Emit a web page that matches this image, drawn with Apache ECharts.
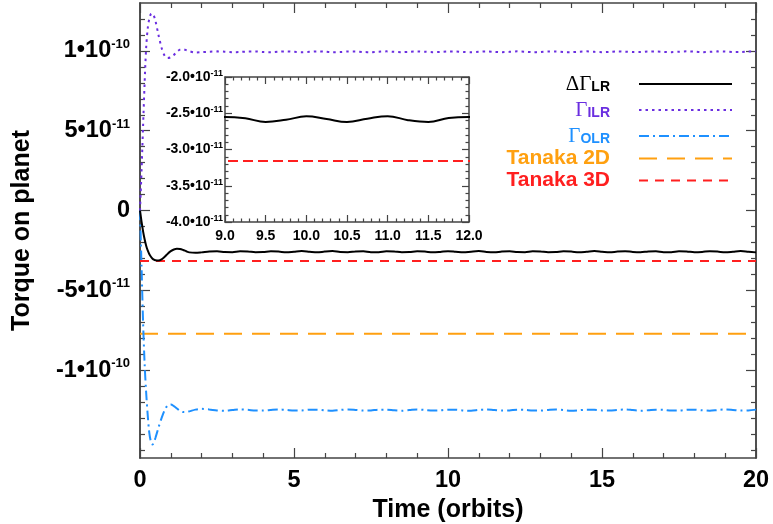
<!DOCTYPE html>
<html><head><meta charset="utf-8">
<script src="https://cdn.jsdelivr.net/npm/echarts@6/dist/echarts.min.js"></script>
<style>html,body{margin:0;padding:0;background:#fff}#c{width:773px;height:524px}</style>
</head><body><div id="c"></div>
<script>
// ---- data (torque values in units of 1e-11) ----
const time = [0,0.05,0.1,0.15,0.2,0.25,0.3,0.35,0.4,0.45,0.5,0.6,0.7,0.8,0.9,1.0,1.1,1.2,1.3,1.4,1.5,1.6,1.8,
  2,2.25,2.5,2.75, 3,3.25,3.5,3.75, 4,4.25,4.5,4.75, 5,5.25,5.5,5.75, 6,6.25,6.5,6.75,
  7,7.25,7.5,7.75, 8,8.25,8.5,8.75, 9,9.25,9.5,9.75, 10,10.25,10.5,10.75, 11,11.25,11.5,11.75,
  12,12.25,12.5,12.75, 13,13.25,13.5,13.75, 14,14.25,14.5,14.75, 15,15.25,15.5,15.75,
  16,16.25,16.5,16.75, 17,17.25,17.5,17.75, 18,18.25,18.5,18.75, 19,19.25,19.5,19.75, 20];

const deltaGammaLR = [0,-0.7,-1.3,-1.8,-2.2,-2.5,-2.72,-2.88,-3.0,-3.07,-3.11,-3.13,-3.06,-2.9,-2.7,-2.54,-2.44,-2.40,-2.41,-2.47,-2.55,-2.62,-2.65,
  -2.62,-2.57,-2.55,-2.60, -2.61,-2.55,-2.56,-2.61, -2.60,-2.55,-2.57,-2.62, -2.58,-2.54,-2.58,-2.62,
  -2.57,-2.54,-2.60,-2.61, -2.56,-2.55,-2.61,-2.61, -2.55,-2.56,-2.61,-2.60, -2.55,-2.57,-2.62,-2.59,
  -2.543,-2.58,-2.62,-2.575, -2.54,-2.595,-2.62,-2.565, -2.55,-2.60,-2.61,-2.55, -2.56,-2.61,-2.60,-2.545,
  -2.57,-2.62,-2.585,-2.54, -2.58,-2.62,-2.57,-2.545, -2.595,-2.615,-2.56,-2.55, -2.605,-2.605,-2.55,-2.56,
  -2.615,-2.595,-2.545,-2.57, -2.62,-2.585,-2.54,-2.58, -2.62];

const gammaILR = [0,2.5,5.3,8.0,10.2,11.4,12.0,12.3,12.35,12.2,11.9,11.0,10.2,9.7,9.55,9.6,9.75,9.95,10.08,10.1,10.05,9.98,9.9,
  9.92,9.95,9.97,9.95, 9.92,9.93,9.96,9.96, 9.93,9.92,9.95,9.97, 9.94,9.92,9.94,9.97,
  9.95,9.92,9.93,9.96, 9.96,9.93,9.92,9.95, 9.97,9.94,9.92,9.94, 9.97,9.95,9.92,9.93,
  9.96,9.96,9.93,9.92, 9.95,9.97,9.94,9.92, 9.94,9.97,9.95,9.92, 9.93,9.96,9.96,9.93,
  9.92,9.95,9.97,9.94, 9.92,9.94,9.97,9.95, 9.93,9.93,9.96,9.96, 9.94,9.92,9.95,9.97,
  9.95,9.92,9.94,9.97, 9.96,9.93,9.93,9.96, 9.96];

const gammaOLR = [0,-3.5,-7.0,-9.6,-11.4,-12.8,-13.9,-14.45,-14.65,-14.55,-14.25,-13.6,-13.0,-12.5,-12.2,-12.15,-12.25,-12.4,-12.55,-12.62,-12.62,-12.58,-12.47,
  -12.42,-12.46,-12.52,-12.54, -12.50,-12.46,-12.48,-12.53, -12.53,-12.49,-12.46,-12.49, -12.53,-12.52,-12.47,-12.47,
  -12.51,-12.54,-12.49,-12.46, -12.49,-12.53,-12.52,-12.47, -12.47,-12.51,-12.54,-12.50, -12.46,-12.49,-12.53,-12.52,
  -12.47,-12.47,-12.52,-12.54, -12.49,-12.46,-12.50,-12.53, -12.52,-12.47,-12.48,-12.53, -12.53,-12.49,-12.46,-12.50,
  -12.54,-12.51,-12.47,-12.48, -12.52,-12.53,-12.49,-12.46, -12.50,-12.54,-12.51,-12.47, -12.48,-12.53,-12.53,-12.48,
  -12.47,-12.51,-12.54,-12.50, -12.46,-12.49,-12.53,-12.52, -12.47];

const tanakaTime = [0, 20];
const tanaka2D = [-7.72, -7.72];
const tanaka3D = [-3.16, -3.16];

const seriesNames = ['dLR', 'ILR', 'OLR', 'Tanaka 2D', 'Tanaka 3D'];

// ---- ticks & labels ----
const xMajorTicks = [0, 5, 10, 15, 20];
const yMajorTicks = [-10, -5, 0, 5, 10];
const yMantissa = ['-1\u202210', '-5\u202210', '0', '5\u202210', '1\u202210'];
const yExponent = ['-10', '-11', '', '-11', '-10'];
const yMinorTicks = [-15,-14,-13,-12,-11,-9,-8,-7,-6,-4,-3,-2,-1,1,2,3,4,6,7,8,9,11,12];
const insetXTicks = [9.0, 9.5, 10.0, 10.5, 11.0, 11.5, 12.0];
const insetYTicks = [-4.0, -3.5, -3.0, -2.5, -2.0];
const insetExponent = '-11';

// ---- styling ----
const FONT = "'Liberation Sans', Arial, Helvetica, sans-serif";
const SERIF = "'Liberation Serif', 'Times New Roman', serif";
const AX = '#444';
const C = { black: '#000000', purple: '#6a2ee0', blue: '#1e90ff', orange: '#ffa010', red: '#ff1f1f' };

function pairs(xs, ys) { return xs.map((x, i) => [x, ys[i]]); }
const axisLine = { show: true, onZero: false, lineStyle: { color: AX, width: 1.5 } };

function xAx(grid, pos, min, max, interval, showLabel, labelOpt, extra) {
  return Object.assign({
    type: 'value', gridIndex: grid, position: pos, min, max, interval,
    axisLine, splitLine: { show: false },
    axisTick: { show: true, inside: true, length: grid === 0 ? 10 : 7, lineStyle: { color: AX, width: 1.2 } },
    minorTick: { show: true, splitNumber: 5, length: grid === 0 ? 5 : 3.5, lineStyle: { color: AX, width: 1.2 } },
    axisLabel: Object.assign({ show: showLabel, showMinLabel: true, showMaxLabel: true }, labelOpt)
  }, extra || {});
}

function findIdx(arr, v) { return arr.findIndex(a => Math.abs(a - v) < 1e-6); }

const mainYLabel = {
  show: true, customValues: yMajorTicks, margin: 10,
  formatter: function (v) {
    const i = findIdx(yMajorTicks, v);
    if (i < 0) return '';
    return yExponent[i] ? '{b|' + yMantissa[i] + '}{s|' + yExponent[i] + '}' : '{b|' + yMantissa[i] + '}';
  },
  rich: {
    b: { fontFamily: FONT, fontWeight: 'bold', fontSize: 23.5, color: '#000', lineHeight: 26 },
    s: { fontFamily: FONT, fontWeight: 'bold', fontSize: 13, color: '#000', lineHeight: 13, verticalAlign: 'top' }
  }
};

function yAx(grid, pos, ticks, len, label, extra) {
  return Object.assign({
    type: 'value', gridIndex: grid, position: pos, min: -15.5, max: 13,
    axisLine, splitLine: { show: false },
    axisTick: { show: true, inside: true, length: len, customValues: ticks, lineStyle: { color: AX, width: 1.2 } },
    axisLabel: label || { show: false }
  }, extra || {});
}

const option = {
  animation: false,
  backgroundColor: '#fff',
  grid: [
    { left: 140, right: 17, top: 3, bottom: 66, outerBoundsMode: 'none' },
    { left: 225, right: 304, top: 77, bottom: 302, outerBoundsMode: 'none', show: true, backgroundColor: '#fff', borderWidth: 0 }
  ],
  xAxis: [
    xAx(0, 'bottom', 0, 20, 5, true,
      { margin: 11, fontFamily: FONT, fontWeight: 'bold', fontSize: 23.5, color: '#000' },
      { name: 'Time (orbits)', nameLocation: 'middle', nameGap: 36,
        nameTextStyle: { fontFamily: FONT, fontWeight: 'bold', fontSize: 25, color: '#000' } }),
    xAx(0, 'top', 0, 20, 5, false, {}),
    xAx(1, 'bottom', 9, 12, 0.5, true,
      { margin: 7, fontFamily: FONT, fontWeight: 'bold', fontSize: 14, color: '#000',
        formatter: v => (findIdx(insetXTicks, v) >= 0 ? v.toFixed(1) : '') }),
    xAx(1, 'top', 9, 12, 0.5, false, {})
  ],
  yAxis: [
    yAx(0, 'left', yMajorTicks, 10, mainYLabel,
      { name: 'Torque on planet', nameLocation: 'middle', nameRotate: 90, nameGap: 105,
        nameTextStyle: { fontFamily: FONT, fontWeight: 'bold', fontSize: 25, color: '#000' } }),
    yAx(0, 'left', yMinorTicks, 5),
    yAx(0, 'right', yMajorTicks, 10),
    yAx(0, 'right', yMinorTicks, 5),
    {
      type: 'value', gridIndex: 1, position: 'left', min: -4, max: -2, interval: 0.5,
      axisLine, splitLine: { show: false },
      axisTick: { show: true, inside: true, length: 7, lineStyle: { color: AX, width: 1.2 } },
      minorTick: { show: true, splitNumber: 5, length: 3.5, lineStyle: { color: AX, width: 1.2 } },
      axisLabel: {
        show: true, margin: 2, showMinLabel: true, showMaxLabel: true,
        formatter: v => (findIdx(insetYTicks, v) >= 0 ? '{b|' + v.toFixed(1) + '\u202210}{s|' + insetExponent + '}' : ''),
        rich: {
          b: { fontFamily: FONT, fontWeight: 'bold', fontSize: 14, color: '#000', lineHeight: 16 },
          s: { fontFamily: FONT, fontWeight: 'bold', fontSize: 9, color: '#000', lineHeight: 9, verticalAlign: 'top' }
        }
      }
    },
    {
      type: 'value', gridIndex: 1, position: 'right', min: -4, max: -2, interval: 0.5,
      axisLine, splitLine: { show: false },
      axisTick: { show: true, inside: true, length: 7, lineStyle: { color: AX, width: 1.2 } },
      minorTick: { show: true, splitNumber: 5, length: 3.5, lineStyle: { color: AX, width: 1.2 } },
      axisLabel: { show: false }
    }
  ],
  legend: {
    orient: 'vertical', right: 40, top: 70, align: 'right', padding: 0,
    itemWidth: 93, itemHeight: 14, itemGap: 1, selectedMode: false,
    itemStyle: { opacity: 0 },
    data: seriesNames,
    formatter: function (n) {
      switch (n) {
        case 'dLR': return '{gK|\u0394\u0393}{sK|LR}';
        case 'ILR': return '{gP|\u0393}{sP|ILR}';
        case 'OLR': return '{gB|\u0393}{sB|OLR}';
        case 'Tanaka 2D': return '{tO|Tanaka 2D}';
        default: return '{tR|Tanaka 3D}';
      }
    },
    textStyle: {
      padding: [0, 24, 0, 0],
      rich: {
        gK: { fontFamily: SERIF, fontSize: 21, color: C.black, lineHeight: 20, verticalAlign: 'top' },
        gP: { fontFamily: SERIF, fontSize: 21, color: C.purple, lineHeight: 20, verticalAlign: 'top' },
        gB: { fontFamily: SERIF, fontSize: 21, color: C.blue, lineHeight: 20, verticalAlign: 'top' },
        sK: { fontFamily: FONT, fontWeight: 'bold', fontSize: 14, color: C.black, lineHeight: 14, padding: [10, 0, 0, 0], verticalAlign: 'bottom' },
        sP: { fontFamily: FONT, fontWeight: 'bold', fontSize: 14, color: C.purple, lineHeight: 14, padding: [10, 0, 0, 0], verticalAlign: 'bottom' },
        sB: { fontFamily: FONT, fontWeight: 'bold', fontSize: 14, color: C.blue, lineHeight: 14, padding: [10, 0, 0, 0], verticalAlign: 'bottom' },
        tO: { fontFamily: FONT, fontWeight: 'bold', fontSize: 21, color: C.orange, lineHeight: 24 },
        tR: { fontFamily: FONT, fontWeight: 'bold', fontSize: 21, color: C.red, lineHeight: 24 }
      }
    }
  },
  series: [
    { name: 'Tanaka 2D', type: 'line', xAxisIndex: 0, yAxisIndex: 0, symbol: 'none', data: pairs(tanakaTime, tanaka2D),
      lineStyle: { color: C.orange, width: 2, type: [18, 10] }, itemStyle: { color: C.orange } },
    { name: 'OLR', type: 'line', xAxisIndex: 0, yAxisIndex: 0, symbol: 'none', smooth: 0.3, data: pairs(time, gammaOLR),
      lineStyle: { color: C.blue, width: 2, type: [10, 4, 2, 4] }, itemStyle: { color: C.blue } },
    { name: 'ILR', type: 'line', xAxisIndex: 0, yAxisIndex: 0, symbol: 'none', smooth: 0.3, data: pairs(time, gammaILR),
      lineStyle: { color: C.purple, width: 2, type: [2.5, 4] }, itemStyle: { color: C.purple } },
    { name: 'Tanaka 3D', type: 'line', xAxisIndex: 0, yAxisIndex: 0, symbol: 'none', data: pairs(tanakaTime, tanaka3D),
      lineStyle: { color: C.red, width: 2, type: [9, 7] }, itemStyle: { color: C.red } },
    { name: 'dLR', type: 'line', xAxisIndex: 0, yAxisIndex: 0, symbol: 'none', smooth: 0.3, data: pairs(time, deltaGammaLR),
      lineStyle: { color: C.black, width: 2 }, itemStyle: { color: C.black } },
    // inset
    { name: 'inset Tanaka 3D', type: 'line', xAxisIndex: 2, yAxisIndex: 4, symbol: 'none', data: pairs(tanakaTime, tanaka3D),
      lineStyle: { color: C.red, width: 2, type: [10, 5] }, clip: true },
    { name: 'inset dLR', type: 'line', xAxisIndex: 2, yAxisIndex: 4, symbol: 'none', smooth: 0.4, data: pairs(time, deltaGammaLR),
      lineStyle: { color: C.black, width: 2 }, clip: true }
  ]
};

const chart = echarts.init(document.getElementById('c'), null, { renderer: 'canvas' });
chart.setOption(option);
</script></body></html>
